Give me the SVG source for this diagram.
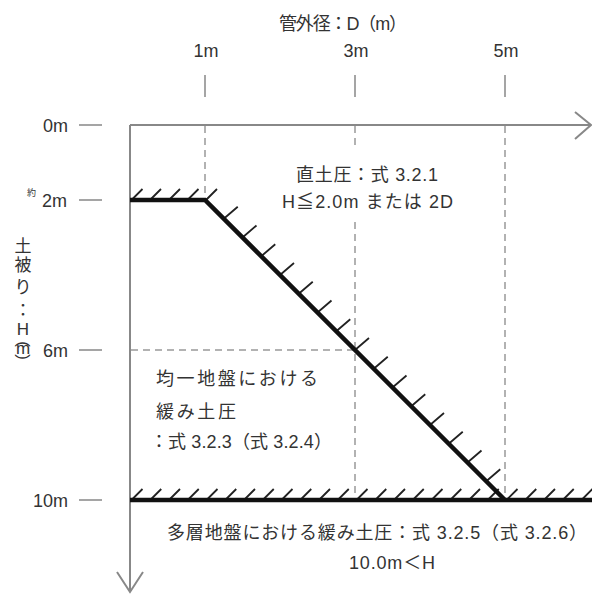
<svg xmlns="http://www.w3.org/2000/svg" width="592" height="594" viewBox="0 0 592 594">
<style>
.t{font-family:"Liberation Sans","Noto Sans CJK JP",sans-serif;font-size:18px;fill:#333}
.v{font-family:"Liberation Sans","Noto Sans CJK JP",sans-serif;font-size:17px;fill:#333;text-anchor:middle}
.s{font-family:"Noto Sans CJK JP",sans-serif;font-size:9px;fill:#333}
.ax{stroke:#888;stroke-width:2;fill:none}
.tk{stroke:#888;stroke-width:1.5;fill:none}
.ds{stroke:#999;stroke-width:1.5;fill:none;stroke-dasharray:7 5}
.th{stroke:#111;stroke-width:4.5;fill:none;stroke-linejoin:miter}
.h{stroke:#222;stroke-width:1.8;fill:none}
</style>
<rect width="592" height="594" fill="#fff"/>
<g id="connectors">
  <path class="ds" d="M205,126 V199 M355,126 V150 M355,222 V499 M505,126 V499 M131,350 H354"/>
  <path class="ax" d="M130,125 H591 M575,112 L591,125 L575,139"/>
  <path class="ax" d="M130,125 V592 M117,572 L130,592 L143,572"/>
  <path class="tk" d="M79,125 H102 M79,200 H102 M79,350 H102 M79,500 H102 M205,75 V97 M355,75 V97 M505,75 V97"/>
</g>
<g id="boundary">
  <path class="h" d="M131.5,200 l11,-11 M150,200 l11,-11 M169,200 l11,-11 M187.5,200 l11,-11 M206,200 l11,-11"/>
  <path class="h" d="M223.75,218.75 l14,-12 M242.5,237.5 l14,-12 M261.25,256.25 l14,-12 M280,275 l14,-12 M298.75,293.75 l14,-12 M317.5,312.5 l14,-12 M336.25,331.25 l14,-12 M355,350 l14,-12 M373.75,368.75 l14,-12 M392.5,387.5 l14,-12 M411.25,406.25 l14,-12 M430,425 l14,-12 M448.75,443.75 l14,-12 M467.5,462.5 l14,-12 M486.25,481.25 l14,-12"/>
  <path class="h" d="M131.5,500 l11,-11 M150.25,500 l11,-11 M169,500 l11,-11 M187.75,500 l11,-11 M206.5,500 l11,-11 M225.25,500 l11,-11 M244,500 l11,-11 M262.75,500 l11,-11 M281.5,500 l11,-11 M300.25,500 l11,-11 M319,500 l11,-11 M337.75,500 l11,-11 M356.5,500 l11,-11 M375.25,500 l11,-11 M394,500 l11,-11 M412.75,500 l11,-11 M431.5,500 l11,-11 M450.25,500 l11,-11 M469,500 l11,-11 M487.75,500 l11,-11 M506.5,500 l11,-11 M525.25,500 l11,-11 M544,500 l11,-11 M562.75,500 l11,-11 M581.5,500 l11,-11"/>
  <path class="th" d="M130,200 H205 L505,500"/>
  <path class="th" d="M130,500 H592"/>
</g>
<g id="axis-labels">
  <text class="t" x="279" y="30" font-size="17" textLength="128" lengthAdjust="spacing">管外径：D（m）</text>
  <text class="t" x="206" y="57" text-anchor="middle">1m</text>
  <text class="t" x="356" y="57" text-anchor="middle">3m</text>
  <text class="t" x="506" y="57" text-anchor="middle">5m</text>
  <text class="t" x="68" y="132" text-anchor="end">0m</text>
  <text class="s" x="27" y="196">約</text>
  <text class="t" x="67" y="207" text-anchor="end">2m</text>
  <text class="t" x="68" y="357" text-anchor="end">6m</text>
  <text class="t" x="68" y="507" text-anchor="end">10m</text>
</g>
<g id="depth-label">
  <text class="v" x="23" y="252">土</text>
  <text class="v" x="23" y="271">被</text>
  <text class="v" x="23" y="293">り</text>
  <text class="v" x="23" y="316">：</text>
  <text class="v" x="23" y="335">H</text>
  <text class="v" font-size="15" transform="translate(23,344) rotate(90)" dominant-baseline="central">(</text>
  <text class="v" font-size="15" x="23" y="354">m</text>
  <text class="v" font-size="15" transform="translate(23,357) rotate(90)" dominant-baseline="central">)</text>
</g>
<g id="zone-direct">
  <text class="t" x="296" y="181" textLength="142" lengthAdjust="spacing">直土圧：式 3.2.1</text>
  <text class="t" x="282" y="208" textLength="171" lengthAdjust="spacing">H≦2.0m または 2D</text>
</g>
<g id="zone-uniform">
  <text class="t" x="156" y="385" textLength="162" lengthAdjust="spacing">均一地盤における</text>
  <text class="t" x="156" y="418" textLength="80" lengthAdjust="spacing">緩み土圧</text>
  <text class="t" x="150" y="448" textLength="182" lengthAdjust="spacing">：式 3.2.3（式 3.2.4）</text>
</g>
<g id="zone-multilayer">
  <text class="t" x="167" y="539" textLength="420" lengthAdjust="spacing">多層地盤における緩み土圧：式 3.2.5（式 3.2.6）</text>
  <text class="t" x="349" y="569" textLength="86" lengthAdjust="spacing">10.0m＜H</text>
</g>
</svg>
